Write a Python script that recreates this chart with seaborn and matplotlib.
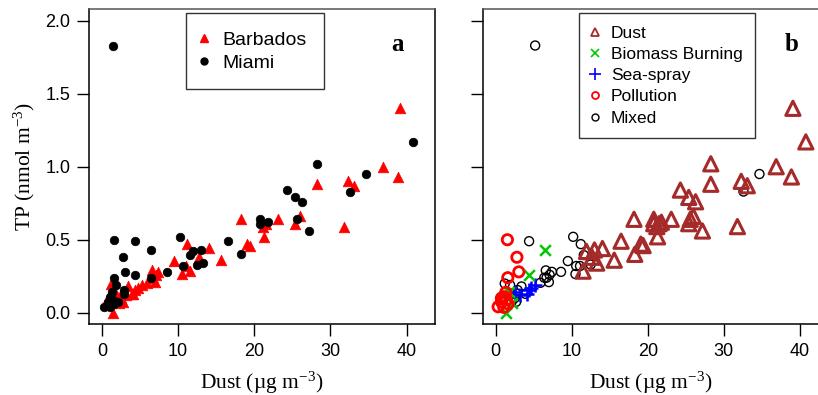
import matplotlib
matplotlib.use("Agg")
import matplotlib.pyplot as plt
from matplotlib.lines import Line2D
import seaborn as sns
import pandas as pd

# Dust (ug m-3) vs TP (nmol m-3), site and aerosol class for each sample
dust = [5.2, 1.55, 4.4, 10.2, 6.5, 2.8, 11.95, 13.0, 11.6, 16.5, 18.3, 20.8, 20.8, 21.8,
        10.6, 12.5, 13.3, 8.6, 3.05, 4.4, 6.4, 1.6, 1.9, 2.9, 2.9, 1.34, 1.08, 1.42, 0.76,
        0.33, 1.08, 1.64, 2.1, 40.8, 28.3, 34.7, 24.3, 25.4, 26.3, 32.6, 25.6, 27.2,
        39.1, 36.9, 38.9, 28.3, 32.3, 33.1, 23.1, 26.0, 25.4, 31.8, 21.2, 21.5, 21.3, 19.4,
        18.2, 19.1, 11.2, 14.05, 12.7, 15.6, 9.5, 11.1, 10.5, 6.6, 7.4, 7.1, 6.7, 7.0, 5.9,
        5.2, 4.7, 4.1, 3.4, 3.2, 2.6, 2.5, 2.7, 1.2, 0.76, 1.4, 1.7, 2.2, 4.4, 3.9, 11.5]
tp = [1.83, 0.50, 0.49, 0.52, 0.43, 0.38, 0.42, 0.43, 0.395, 0.49, 0.40, 0.64, 0.61, 0.62,
      0.32, 0.33, 0.34, 0.28, 0.28, 0.26, 0.24, 0.24, 0.19, 0.155, 0.13, 0.14, 0.11, 0.087, 0.075,
      0.041, 0.037, 0.06, 0.075, 1.17, 1.02, 0.95, 0.84, 0.79, 0.76, 0.83, 0.64, 0.56,
      1.40, 1.00, 0.93, 0.88, 0.90, 0.87, 0.64, 0.66, 0.61, 0.59, 0.59, 0.61, 0.52, 0.46,
      0.64, 0.47, 0.47, 0.44, 0.38, 0.36, 0.354, 0.32, 0.265, 0.29, 0.28, 0.26, 0.24, 0.21, 0.205,
      0.19, 0.167, 0.13, 0.18, 0.12, 0.14, 0.10, 0.075, 0.20, 0.10, 0.0, 0.14, 0.065, 0.155, 0.13, 0.285]
site = ["Miami"] * 42 + ["Barbados"] * 45
kind = ["Mixed", "Pollution", "Mixed", "Mixed", "Biomass Burning", "Pollution", "Dust", "Dust",
        "Mixed", "Dust", "Dust", "Dust", "Dust", "Dust", "Mixed", "Mixed", "Dust", "Mixed",
        "Pollution", "Biomass Burning", "Mixed", "Pollution", "Mixed", "Mixed", "Mixed",
        "Pollution", "Pollution", "Pollution", "Pollution", "Pollution", "Pollution", "Pollution",
        "Mixed", "Dust", "Dust", "Mixed", "Dust", "Dust", "Dust", "Mixed", "Dust", "Dust",
        "Dust", "Dust", "Dust", "Dust", "Dust", "Dust", "Dust", "Dust", "Dust", "Dust", "Dust",
        "Dust", "Dust", "Dust", "Dust", "Dust", "Mixed", "Dust", "Dust", "Dust", "Mixed", "Mixed",
        "Mixed", "Mixed", "Mixed", "Mixed", "Mixed", "Mixed", "Mixed", "Sea-spray", "Sea-spray",
        "Sea-spray", "Mixed", "Sea-spray", "Sea-spray", "Mixed", "Mixed", "Mixed", "Pollution",
        "Biomass Burning", "Biomass Burning", "Biomass Burning", "Sea-spray", "Mixed", "Dust"]
# the high-TP Miami sample sits at a lower dust value in panel a
dust_a_outlier = 1.4

df = pd.DataFrame({"dust": dust, "tp": tp, "site": site, "kind": kind})
df_a = df.copy()
df_a.loc[0, "dust"] = dust_a_outlier

sns.set_style("ticks")
plt.rcParams["font.family"] = ["Liberation Sans", "DejaVu Sans"]
plt.rcParams["mathtext.fontset"] = "custom"
plt.rcParams["mathtext.rm"] = "Liberation Serif"
plt.rcParams["mathtext.it"] = "Liberation Serif:italic"
for key in ["text.color", "axes.labelcolor", "xtick.color", "ytick.color"]:
    plt.rcParams[key] = "black"

fig = plt.figure(figsize=(8.18, 3.95), dpi=100)
ax1 = fig.add_axes([89 / 818, 1 - 324 / 395, 345.7 / 818, 315 / 395])
ax2 = fig.add_axes([482.7 / 818, 1 - 324 / 395, 335.3 / 818, 315 / 395])

# panel a: by site
site_style = {"Barbados": ("^", "#ff0000", 58), "Miami": ("o", "black", 38)}
for s in ["Barbados", "Miami"]:
    m, c, sz = site_style[s]
    sub = df_a[df_a.site == s]
    sns.scatterplot(x=sub.dust, y=sub.tp, ax=ax1, marker=m, color=c, s=sz,
                    edgecolor=c, linewidth=0.5, legend=False)

# panel b: by aerosol class
brown = "#a52a2a"
kind_style = {
    "Mixed": dict(marker="o", s=42, facecolor="none", edgecolor="black", linewidth=1.0),
    "Dust": dict(marker="^", s=105, facecolor="none", edgecolor=brown, linewidth=2.2),
    "Sea-spray": dict(marker="+", s=90, color="#0000ff", linewidth=1.8),
    "Biomass Burning": dict(marker="x", s=60, color="#00c800", linewidth=1.8),
    "Pollution": dict(marker="o", s=55, facecolor="none", edgecolor="#ff0000", linewidth=2.0),
}
for k in ["Mixed", "Dust", "Sea-spray", "Biomass Burning", "Pollution"]:
    sub = df[df.kind == k]
    sns.scatterplot(x=sub.dust, y=sub.tp, ax=ax2, legend=False, **kind_style[k])

for ax in (ax1, ax2):
    ax.set_xlim(-1.7, 43.7 if ax is ax1 else 42.4)
    ax.set_ylim(-0.077, 2.08)
    ax.set_xticks([0, 10, 20, 30, 40])
    ax.set_yticks([0.0, 0.5, 1.0, 1.5, 2.0])
    ax.tick_params(direction="out", length=8.5, width=1, labelsize=13, pad=5, color="black")
    ax.set_xlabel("Dust (µg m$^{\\mathrm{-3}}$)", family="Liberation Serif", fontsize=15.5, labelpad=7)
    for sp in ax.spines.values():
        sp.set_linewidth(1.1)
        sp.set_color("black")
    ax.spines["top"].set_color("#555555")

ax1.set_yticklabels(["0.0", "0.5", "1.0", "1.5", "2.0"])
ax1.set_ylabel("TP (nmol m$^{\\mathrm{-3}}$)", family="Liberation Serif", fontsize=15.5, labelpad=6)
ax2.set_ylabel("")
ax2.set_yticklabels([])
ax2.spines["right"].set_visible(False)

ax1.text(0.891, 0.886, "a", transform=ax1.transAxes, ha="center", va="center",
         family="Liberation Serif", fontweight="bold", fontsize=18)
ax2.text(0.922, 0.886, "b", transform=ax2.transAxes, ha="center", va="center",
         family="Liberation Serif", fontweight="bold", fontsize=18)

h1 = [Line2D([], [], ls="", marker="^", color="#ff0000", ms=6),
      Line2D([], [], ls="", marker="o", color="black", ms=5)]
leg1 = ax1.legend(h1, ["Barbados", "Miami"], loc="upper left", bbox_to_anchor=(0.28, 0.986),
                  borderaxespad=0, fontsize=14, frameon=True, fancybox=False,
                  handlelength=0.1, handletextpad=0.9, borderpad=0.9, labelspacing=0.3)
leg1.get_frame().set_edgecolor("black")
leg1.get_frame().set_linewidth(1)

h2 = [Line2D([], [], ls="", marker="^", mfc="none", mec=brown, ms=6, mew=1.3),
      Line2D([], [], ls="", marker="x", color="#00c800", ms=6, mew=1.2),
      Line2D([], [], ls="", marker="+", color="#0000ff", ms=8, mew=1.2),
      Line2D([], [], ls="", marker="o", mfc="none", mec="#ff0000", ms=5, mew=1.3),
      Line2D([], [], ls="", marker="o", mfc="none", mec="black", ms=5, mew=1.0)]
leg2 = ax2.legend(h2, ["Dust", "Biomass Burning", "Sea-spray", "Pollution", "Mixed"],
                  loc="upper left", bbox_to_anchor=(0.287, 0.986), borderaxespad=0,
                  fontsize=12.5, frameon=True, fancybox=False, handlelength=0.44,
                  handletextpad=0.7, borderpad=0.7, labelspacing=0.35)
leg2.get_frame().set_edgecolor("black")
leg2.get_frame().set_linewidth(1)

fig.savefig("out.png", dpi=100)
